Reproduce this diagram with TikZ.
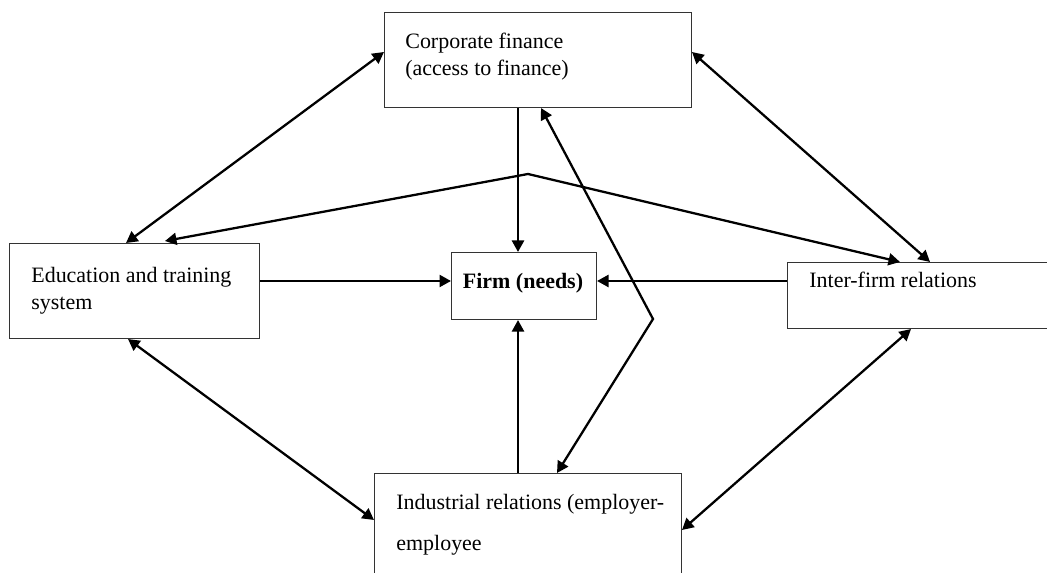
\documentclass[tikz,border=0pt]{standalone}
\usepackage{fontspec}
\setmainfont{Liberation Serif}
\usetikzlibrary{calc, arrows.meta}

\tikzset{
    box/.style={draw=black!80, line width=0.6pt, anchor=north west, inner sep=0pt},
    txt/.style={anchor=base west, inner sep=0pt, align=left, font=\fontsize{12.5}{15.4}\selectfont},
    link/.style={line width=1.3pt, {Triangle[length=2.3mm, width=2.4mm]}-{Triangle[length=2.3mm, width=2.4mm]}},
    to firm/.style={line width=1.3pt, -{Triangle[length=2.3mm, width=2.4mm]}}
}

\begin{document}
\begin{tikzpicture}[x=0.02cm, y=-0.02cm]
    \useasboundingbox (0,0) rectangle (1047,573);

    % boxes
    \node[box, minimum width=6.14cm, minimum height=1.9cm] (cf) at (384,12) {};
    \node[box, minimum width=5cm, minimum height=1.9cm] (edu) at (9,243) {};
    \node[box, minimum width=2.9cm, minimum height=1.34cm] (firm) at (451,252) {};
    \node[box, minimum width=5.22cm, minimum height=1.32cm] (ifr) at (787,262) {};
    \node[box, minimum width=6.14cm, minimum height=2.2cm] (ind) at (374,473) {};

    % texts (base = last line)
    \node[txt] (cf-t) at (405,76) {Corporate finance\\(access to finance)};
    \node[txt] (edu-t) at (31,310) {Education and training\\system};
    \node[txt, font=\fontsize{12.5}{15}\selectfont\bfseries, anchor=base] (firm-t) at (523,289) {Firm (needs)};
    \node[txt] (ifr-t) at (809,288) {Inter-firm relations};
    \node[txt, font=\fontsize{12.5}{22.8}\selectfont] (ind-t) at (396,550) {Industrial relations (employer-\\employee};

    \coordinate (top bend) at (528,174);
    \coordinate (kink) at (653,319);

    % links between the outer boxes
    \draw[link] ($(edu.north west)+(117,0)$) -- ($(cf.north west)+(0,40)$);
    \draw[link] ($(edu.north west)+(156,-2)$) -- (top bend) -- ($(ifr.north west)+(113,0)$);
    \draw[link] ($(cf.north east)+(0,40)$) -- ($(ifr.north west)+(143,0)$);
    \draw[link] ($(cf.south west)+(157,0)$) -- (kink) -- ($(ind.north west)+(183,0)$);
    \draw[link] ($(edu.south west)+(119,0)$) -- ($(ind.north west)+(0,47)$);
    \draw[link] ($(ifr.south west)+(124,0)$) -- ($(ind.north east)+(0,57)$);

    % into the firm
    \draw[to firm] ($(cf.south west)+(134,0)$) -- ($(firm.north west)+(67,0)$);
    \draw[to firm] ($(edu.north east)+(0,38)$) -- ($(firm.north west)+(0,29)$);
    \draw[to firm] ($(ifr.north west)+(0,19)$) -- ($(firm.north east)+(0,29)$);
    \draw[to firm] ($(ind.north west)+(144,0)$) -- ($(firm.south west)+(67,0)$);
\end{tikzpicture}
\end{document}
